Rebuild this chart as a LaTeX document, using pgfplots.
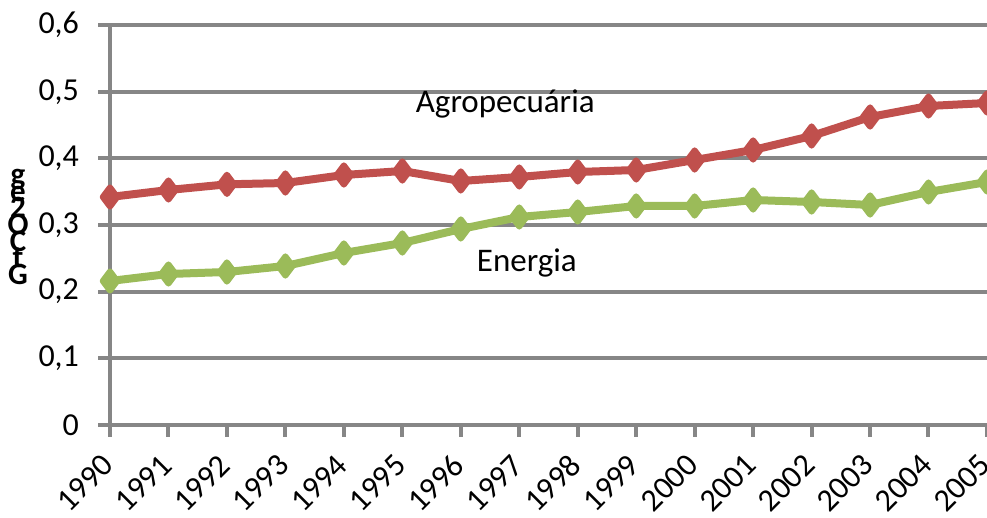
\documentclass[border=0pt]{standalone}
\usepackage{fontspec}
\setmainfont{Carlito}
\usepackage{pgfplots}
\pgfplotsset{compat=1.18}
\definecolor{gridgray}{HTML}{868686}
\definecolor{agro}{HTML}{C0504D}
\definecolor{ener}{HTML}{9BBB59}
\begin{document}
\begin{tikzpicture}
\begin{axis}[
  scale only axis, width=438.5pt, height=200pt,
  xmin=1990, xmax=2005, ymin=0, ymax=0.6,
  xtick={1990,...,2005}, ytick={0,0.1,0.2,0.3,0.4,0.5,0.6},
  axis x line*=bottom, axis y line*=left,
  axis line style={gridgray, line width=2pt},
  ymajorgrids, grid style={gridgray, line width=2pt},
  tick align=outside, major tick length=6pt,
  tick style={gridgray, line width=2pt},
  /pgf/number format/.cd, assume math mode=true, use comma, fixed, precision=1,
  /pgfplots/.cd,
  xticklabel={\pgfmathprintnumber[1000 sep={}]{\tick}},
  ticklabel style={font=\fontsize{16}{19}\selectfont, text=black},
  xticklabel style={rotate=45, anchor=east, xshift=-5.4pt, yshift=-7.5pt},
  yticklabel style={xshift=-6pt},
  clip=false,
]
\addplot[agro, line width=4pt, line join=round, mark=diamond*, mark size=4.8pt, mark options={fill=agro, line width=3pt, line join=round}] coordinates {
(1990,0.342) (1991,0.3525) (1992,0.361) (1993,0.363) (1994,0.375) (1995,0.381)
(1996,0.366) (1997,0.372) (1998,0.3795) (1999,0.3825) (2000,0.3975) (2001,0.4125)
(2002,0.4335) (2003,0.462) (2004,0.4785) (2005,0.483)};
\addplot[ener, line width=4pt, line join=round, mark=diamond*, mark size=4.8pt, mark options={fill=ener, line width=3pt, line join=round}] coordinates {
(1990,0.216) (1991,0.2265) (1992,0.2295) (1993,0.2385) (1994,0.258) (1995,0.273)
(1996,0.294) (1997,0.312) (1998,0.3195) (1999,0.3285) (2000,0.3285) (2001,0.3375)
(2002,0.3345) (2003,0.33) (2004,0.3495) (2005,0.3645)};
\node[font=\fontsize{16.5}{19}\selectfont] at (axis cs:1996.76,0.4815) {Agropecuária};
\node[font=\fontsize{16.5}{19}\selectfont] at (axis cs:1997.13,0.243) {Energia};
\end{axis}
\node[font=\bfseries\fontsize{15.5}{8.3}\selectfont, inner sep=0pt, align=center] at (-46pt,99pt)
  {\vbox{\baselineskip=8.3pt\lineskiplimit=-100pt\lineskip=0pt
   \halign{\hfil#\hfil\cr g\cr e\cr 2\cr O\cr C\cr t\cr G\cr}}};
\pgfresetboundingbox
\path[use as bounding box] (-55pt,-46.5pt) rectangle (438.5pt,212.5pt);
\end{tikzpicture}
\end{document}
